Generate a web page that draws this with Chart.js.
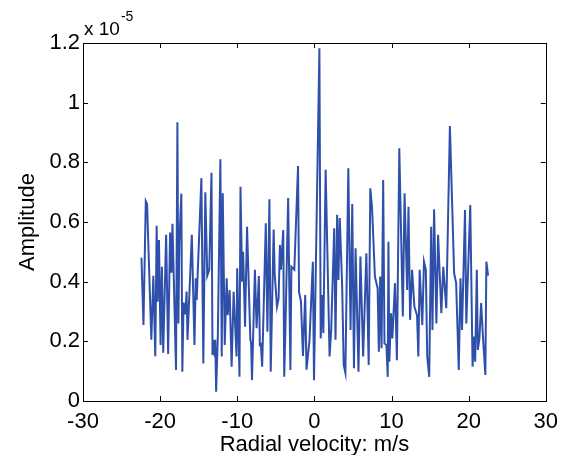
<!DOCTYPE html>
<html><head><meta charset="utf-8">
<script src="https://cdn.jsdelivr.net/npm/chart.js@4.4.1/dist/chart.umd.min.js"></script>
<style>html,body{margin:0;padding:0;background:#fff;}canvas{display:block;}</style>
</head><body>
<canvas id="c" width="566" height="455"></canvas>
<script>
// Radial velocity (m/s)
const velocity = [
-22.42,-22.16,-21.86,-21.69,-21.14,-20.88,-20.63,-20.45,-20.32,-20.15,-19.94,-19.77,-19.60,-19.22,-18.96,-18.71,-18.53,-18.40,-17.94,-17.76,
-17.63,-17.51,-17.25,-17.12,-16.96,-16.74,-16.57,-16.45,-15.89,-15.55,-15.38,-15.26,-14.65,-14.40,-14.14,-13.89,-13.63,-13.34,-13.21,-13.08,
-12.91,-12.85,-12.74,-12.52,-12.19,-12.01,-11.88,-11.62,-11.37,-11.24,-10.99,-10.73,-10.47,-10.09,-10.01,-9.71,-9.58,-9.37,-9.24,-8.99,
-8.73,-8.30,-8.20,-8.09,-7.71,-7.49,-7.20,-7.07,-6.94,-6.77,-6.30,-6.09,-5.83,-5.66,-5.28,-5.15,-4.85,-4.64,-4.47,-4.34,
-4.04,-3.91,-3.75,-3.40,-3.11,-2.98,-2.60,-2.12,-1.99,-1.74,-1.48,-1.19,-1.02,-0.63,-0.20,-0.05,0.65,0.82,0.99,1.16,
1.46,1.97,2.18,2.57,2.74,2.95,3.12,3.29,3.60,3.80,4.02,4.40,4.69,4.91,5.13,5.34,5.72,5.97,6.32,6.74,
7.04,7.25,7.47,7.85,8.20,8.36,8.53,8.71,8.92,9.09,9.34,9.51,9.60,9.72,9.94,10.11,10.45,10.70,11.01,11.47,
11.69,12.03,12.20,12.41,12.67,12.97,13.31,13.48,13.65,13.99,14.21,14.45,14.63,14.89,15.14,15.31,15.52,15.82,16.04,16.46,
16.71,17.10,17.57,18.12,18.38,18.72,18.94,19.14,19.53,19.70,20.21,20.51,20.68,20.85,21.06,21.19,21.40,21.62,21.88,22.17,
22.30,22.52
];
// Amplitude in units of 1e-5
const amplitude = [
0.48,0.255,0.67,0.66,0.205,0.42,0.15,0.587,0.333,0.54,0.188,0.45,0.162,0.557,0.158,0.565,0.43,0.594,0.104,0.934,
0.26,0.53,0.695,0.098,0.33,0.29,0.367,0.205,0.557,0.188,0.411,0.339,0.747,0.126,0.70,0.42,0.44,0.765,0.154,0.205,
0.149,0.205,0.031,0.216,0.81,0.149,0.696,0.188,0.411,0.288,0.372,0.115,0.366,0.149,0.445,0.081,0.718,0.40,0.50,0.249,
0.584,0.205,0.195,0.07,0.44,0.244,0.419,0.188,0.19,0.115,0.596,0.232,0.676,0.098,0.575,0.428,0.316,0.344,0.523,0.44,
0.573,0.081,0.249,0.68,0.104,0.45,0.44,0.788,0.366,0.333,0.151,0.355,0.105,0.205,0.467,0.07,1.182,0.21,0.355,0.228,
0.775,0.149,0.238,0.579,0.205,0.624,0.406,0.613,0.389,0.121,0.094,0.78,0.238,0.66,0.11,0.512,0.098,0.484,0.149,0.495,
0.121,0.713,0.651,0.417,0.378,0.165,0.417,0.177,0.741,0.193,0.188,0.081,0.534,0.132,0.294,0.21,0.395,0.137,0.847,0.283,
0.696,0.372,0.651,0.272,0.44,0.316,0.288,0.149,0.44,0.255,0.467,0.44,0.149,0.081,0.584,0.238,0.643,0.26,0.557,0.294,
0.45,0.311,0.922,0.428,0.395,0.104,0.411,0.238,0.64,0.26,0.657,0.115,0.216,0.132,0.44,0.171,0.21,0.328,0.205,0.087,
0.467,0.42
];
const xTickValues = [-30, -20, -10, 0, 10, 20, 30];
const yTickValues = [0, 0.2, 0.4, 0.6, 0.8, 1, 1.2];
const yExponent = '-5';
const xTitle = 'Radial velocity: m/s';
const yTitle = 'Amplitude';

const FONT = '"Liberation Sans", Arial, Helvetica, sans-serif';
const LINE_COLOR = 'rgb(47,80,170)';

const points = velocity.map((v, i) => ({ x: v, y: amplitude[i] }));

const framePlugin = {
  id: 'matlabFrame',
  afterDraw(chart) {
    const { ctx, chartArea: a, scales } = chart;
    ctx.save();
    ctx.strokeStyle = '#000';
    ctx.lineWidth = 1;
    ctx.strokeRect(Math.round(a.left) + 0.5, Math.round(a.top) + 0.5,
      Math.round(a.right - a.left), Math.round(a.bottom - a.top));
    const tl = 5;
    ctx.beginPath();
    xTickValues.forEach(v => {
      const px = Math.round(scales.x.getPixelForValue(v)) + 0.5;
      ctx.moveTo(px, a.bottom); ctx.lineTo(px, a.bottom - tl);
      ctx.moveTo(px, a.top); ctx.lineTo(px, a.top + tl);
    });
    yTickValues.forEach(v => {
      const py = Math.round(scales.y.getPixelForValue(v)) + 0.5;
      ctx.moveTo(a.left, py); ctx.lineTo(a.left + tl, py);
      ctx.moveTo(a.right, py); ctx.lineTo(a.right - tl, py);
    });
    ctx.stroke();

    ctx.fillStyle = '#000';
    // x title
    ctx.font = '22px ' + FONT;
    ctx.textAlign = 'center';
    ctx.textBaseline = 'alphabetic';
    ctx.fillText(xTitle, (a.left + a.right) / 2, 451);
    // y title
    ctx.save();
    ctx.translate(34, (a.top + a.bottom) / 2);
    ctx.rotate(-Math.PI / 2);
    ctx.fillText(yTitle, 0, 0);
    ctx.restore();
    // exponent
    ctx.textAlign = 'left';
    ctx.font = '19px ' + FONT;
    ctx.fillText('x 10', a.left + 1, 35);
    const w = ctx.measureText('x 10').width;
    ctx.font = '14px ' + FONT;
    ctx.fillText(yExponent, a.left + 1 + w + 1, 21);
    ctx.restore();
  }
};

new Chart(document.getElementById('c'), {
  type: 'line',
  data: {
    datasets: [{
      data: points,
      borderColor: LINE_COLOR,
      borderWidth: 2,
      pointRadius: 0,
      tension: 0,
      fill: false
    }]
  },
  options: {
    responsive: false,
    animation: false,
    devicePixelRatio: 1,
    layout: { padding: { left: 0, right: 14, top: 43, bottom: 0 } },
    plugins: { legend: { display: false }, tooltip: { enabled: false } },
    scales: {
      x: {
        type: 'linear', min: -30, max: 30,
        afterBuildTicks(s) { s.ticks = xTickValues.map(v => ({ value: v })); },
        ticks: { color: '#000', font: { family: FONT, size: 22 }, padding: 8, maxRotation: 0, autoSkip: false,
          callback: v => String(v) },
        grid: { display: false, drawTicks: false },
        border: { display: false },
        afterFit(s) { s.height = 54; }
      },
      y: {
        type: 'linear', min: 0, max: 1.2,
        afterBuildTicks(s) { s.ticks = yTickValues.map(v => ({ value: v })); },
        ticks: { color: '#000', font: { family: FONT, size: 22 }, padding: 3, autoSkip: false,
          callback: v => String(Number(v.toFixed(1))) },
        grid: { display: false, drawTicks: false },
        border: { display: false },
        afterFit(s) { s.width = 83; }
      }
    }
  },
  plugins: [framePlugin]
});
</script>
</body></html>
